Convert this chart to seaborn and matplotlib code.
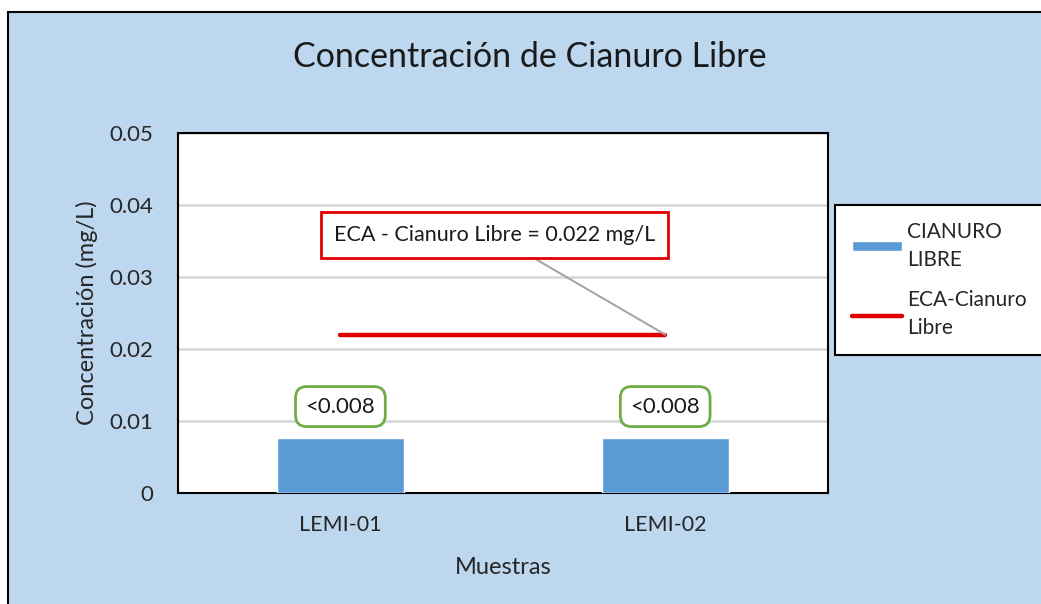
import matplotlib
matplotlib.use("Agg")
import matplotlib.pyplot as plt
import seaborn as sns
import pandas as pd
from matplotlib.patches import Rectangle

# data
muestras = ["LEMI-01", "LEMI-02"]
cianuro = [0.0077, 0.0077]
etiquetas = ["<0.008", "<0.008"]
eca_limite = 0.022
yticks = [0, 0.01, 0.02, 0.03, 0.04, 0.05]
ytick_labels = ["0", "0.01", "0.02", "0.03", "0.04", "0.05"]

sns.set_style("white")
plt.rcParams['font.family'] = ['Lato', 'DejaVu Sans']

df = pd.DataFrame({"muestra": muestras, "valor": cianuro})

fig = plt.figure(figsize=(10.41, 6.04), dpi=100)
fig.patch.set_facecolor("white")
# light blue chart area with border
fig.patches.append(Rectangle((8 / 1041, -0.01), 1.1, (604 - 12) / 604 + 0.01,
                             transform=fig.transFigure, facecolor="#BDD7EE",
                             edgecolor="black", linewidth=1.5, zorder=-10))

ax = fig.add_axes([0.171, 0.1838, 0.624, 0.596])
ax.set_facecolor("white")

sns.barplot(data=df, x="muestra", y="valor", color="#5B9BD5", width=0.39,
            saturation=1, ax=ax, zorder=3, label="CIANURO\nLIBRE")
ax.plot([0, 1], [eca_limite, eca_limite], color="#E00000", lw=3.2,
        solid_capstyle="round", zorder=4, label="ECA-Cianuro\nLibre")

ax.set_xlim(-0.5, 1.5)
ax.set_ylim(0, 0.05)
ax.set_yticks(yticks)
ax.set_yticklabels(ytick_labels)
ax.yaxis.grid(True, color="#D9D9D9", lw=2)
ax.set_axisbelow(True)
for s in ax.spines.values():
    s.set_color("black")
    s.set_linewidth(1.5)
ax.tick_params(axis="y", length=0, labelsize=16, pad=18, labelcolor="#262626")
ax.tick_params(axis="x", length=0, labelsize=15.5, pad=16, labelcolor="#262626")

ax.set_xlabel("Muestras", fontsize=17, labelpad=16, color="#262626")
ax.set_ylabel("Concentración (mg/L)", fontsize=17, labelpad=8, color="#262626")
fig.text(0.509, 0.905, "Concentración de Cianuro Libre", fontsize=24.5,
         ha="center", va="center", color="#1a1a1a")

# value labels
for i, (v, t) in enumerate(zip(cianuro, etiquetas)):
    ax.text(i, v + 0.0043, t, ha="center", va="center", fontsize=16,
            color="#1a1a1a",
            bbox=dict(boxstyle="round,pad=0.45,rounding_size=0.5",
                      fc="white", ec="#70AD47", lw=2), zorder=5)

# callout for ECA
ax.annotate("ECA - Cianuro Libre = 0.022 mg/L", xy=(1, eca_limite),
            xytext=(0.475, 0.0358), ha="center", va="center", fontsize=15.5,
            color="#1a1a1a",
            bbox=dict(boxstyle="square,pad=0.6", fc="white", ec="#E00000", lw=2),
            arrowprops=dict(arrowstyle="-", color="#A6A6A6", lw=1.5,
                            shrinkA=0, shrinkB=0),
            zorder=6)

handles, labels = ax.get_legend_handles_labels()
order = [labels.index("CIANURO\nLIBRE"), labels.index("ECA-Cianuro\nLibre")]
leg = ax.legend([handles[k] for k in order], [labels[k] for k in order],
                loc="upper left", bbox_to_anchor=(1.012, 0.8), borderaxespad=0,
                fontsize=15, frameon=True, fancybox=False, edgecolor="black",
                framealpha=1, facecolor="white", handlelength=2.4,
                handleheight=0.4, labelspacing=1.0, borderpad=0.8,
                handletextpad=0.25)
leg.get_frame().set_linewidth(1.5)
for t in leg.get_texts():
    t.set_color("#262626")
    t.set_linespacing(1.5)

fig.savefig("out.png", dpi=100, facecolor=fig.get_facecolor())
